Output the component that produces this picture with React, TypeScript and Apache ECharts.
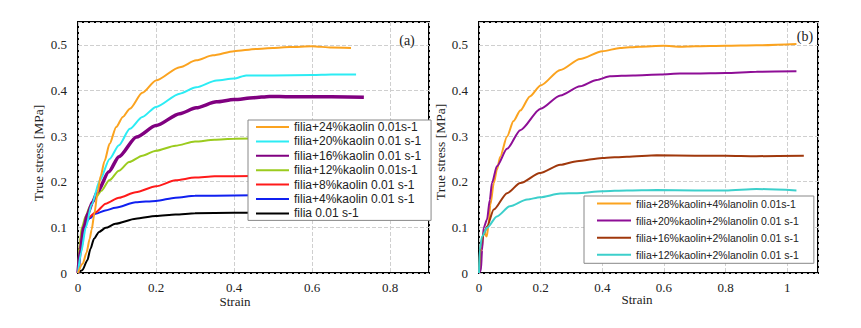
import React, { useEffect, useRef } from "react";
import * as echarts from "echarts";

// ---- Panel (a) data: [strain, true stress MPa] ----
const aK24: [number, number][] = [[0,0],[0.012,0.02],[0.022,0.045],[0.03,0.075],[0.035,0.095],[0.042,0.13],[0.05,0.175],[0.058,0.212],[0.068,0.245],[0.081,0.283],[0.098,0.32],[0.115,0.342],[0.133,0.36],[0.165,0.395],[0.2,0.422],[0.261,0.451],[0.303,0.466],[0.346,0.477],[0.4,0.486],[0.457,0.491],[0.5,0.493],[0.542,0.495],[0.6,0.497],[0.65,0.494],[0.7,0.493]];
const aK20: [number, number][] = [[0,0],[0.008,0.045],[0.02,0.1],[0.035,0.15],[0.056,0.203],[0.081,0.25],[0.105,0.28],[0.133,0.316],[0.165,0.342],[0.2,0.364],[0.261,0.393],[0.303,0.407],[0.355,0.422],[0.4,0.426],[0.431,0.433],[0.5,0.433],[0.6,0.434],[0.65,0.435],[0.713,0.435]];
const aK16: [number, number][] = [[0,0],[0.006,0.05],[0.015,0.1],[0.025,0.13],[0.037,0.155],[0.05,0.178],[0.079,0.222],[0.105,0.255],[0.15,0.298],[0.2,0.323],[0.261,0.349],[0.303,0.362],[0.355,0.375],[0.4,0.38],[0.45,0.384],[0.491,0.387],[0.542,0.386],[0.6,0.386],[0.65,0.386],[0.733,0.385]];
const aK12: [number, number][] = [[0,0],[0.005,0.07],[0.01,0.1],[0.02,0.125],[0.03,0.145],[0.045,0.165],[0.06,0.18],[0.08,0.203],[0.105,0.224],[0.131,0.243],[0.165,0.257],[0.2,0.268],[0.25,0.279],[0.3,0.288],[0.35,0.292],[0.4,0.294],[0.5,0.295],[0.6,0.296],[0.7,0.296]];
const aK8: [number, number][] = [[0,0],[0.007,0.079],[0.015,0.105],[0.028,0.122],[0.045,0.133],[0.071,0.152],[0.105,0.165],[0.148,0.177],[0.2,0.19],[0.25,0.203],[0.3,0.209],[0.35,0.212],[0.4,0.212],[0.5,0.213],[0.6,0.213],[0.7,0.213]];
const aK4: [number, number][] = [[0,0],[0.005,0.06],[0.01,0.09],[0.02,0.11],[0.03,0.12],[0.045,0.13],[0.07,0.137],[0.096,0.143],[0.148,0.155],[0.2,0.158],[0.25,0.165],[0.3,0.169],[0.4,0.17],[0.5,0.171],[0.6,0.171],[0.7,0.171]];
const aK0: [number, number][] = [[0,0],[0.011,0.006],[0.024,0.028],[0.032,0.053],[0.041,0.075],[0.054,0.09],[0.071,0.099],[0.096,0.108],[0.148,0.119],[0.2,0.125],[0.25,0.128],[0.3,0.131],[0.4,0.132],[0.5,0.132],[0.6,0.132],[0.7,0.132]];

// ---- Panel (b) data ----
const bK28L4: [number, number][] = [[0,0],[0.008,0.05],[0.015,0.09],[0.025,0.08],[0.03,0.1],[0.037,0.15],[0.048,0.197],[0.058,0.226],[0.069,0.255],[0.091,0.299],[0.112,0.333],[0.134,0.356],[0.165,0.387],[0.2,0.411],[0.264,0.445],[0.328,0.469],[0.4,0.486],[0.458,0.493],[0.52,0.496],[0.6,0.498],[0.652,0.496],[0.7,0.497],[0.8,0.498],[0.9,0.499],[1.03,0.502]];
const bK20L2: [number, number][] = [[0,0],[0.006,0.005],[0.01,0.05],[0.015,0.099],[0.026,0.117],[0.035,0.16],[0.042,0.197],[0.058,0.234],[0.091,0.272],[0.134,0.313],[0.2,0.36],[0.264,0.389],[0.328,0.409],[0.382,0.423],[0.425,0.431],[0.5,0.433],[0.59,0.435],[0.652,0.437],[0.7,0.437],[0.8,0.438],[0.9,0.441],[1.03,0.442]];
const bK16L2: [number, number][] = [[0,0],[0.004,0.058],[0.015,0.085],[0.026,0.102],[0.048,0.139],[0.091,0.175],[0.134,0.197],[0.198,0.219],[0.264,0.237],[0.318,0.245],[0.4,0.252],[0.48,0.255],[0.577,0.258],[0.7,0.257],[0.8,0.257],[0.9,0.256],[1.054,0.257]];
const bK12L2: [number, number][] = [[0,0],[0.002,0.05],[0.01,0.08],[0.026,0.099],[0.058,0.124],[0.1,0.146],[0.156,0.161],[0.198,0.166],[0.264,0.174],[0.318,0.175],[0.4,0.179],[0.48,0.181],[0.577,0.182],[0.7,0.181],[0.8,0.181],[0.9,0.184],[1.03,0.181]];

const leftNames = [
  "filia+24%kaolin 0.01s-1",
  "filia+20%kaolin 0.01 s-1",
  "filia+16%kaolin 0.01 s-1",
  "filia+12%kaolin 0.01s-1",
  "filia+8%kaolin 0.01 s-1",
  "filia+4%kaolin 0.01 s-1",
  "filia 0.01 s-1",
];
const rightNames = [
  "filia+28%kaolin+4%lanolin 0.01s-1",
  "filia+20%kaolin+2%lanolin 0.01 s-1",
  "filia+16%kaolin+2%lanolin 0.01 s-1",
  "filia+12%kaolin+2%lanolin 0.01 s-1",
];
const leftData = [aK24, aK20, aK16, aK12, aK8, aK4, aK0];
const rightData = [bK28L4, bK20L2, bK16L2, bK12L2];
const leftColors = ["#FBA31F", "#2CECF4", "#800080", "#9BCB1E", "#FF1A1A", "#1020F0", "#000000"];
const leftWidths = [2, 2, 3.5, 2, 2, 2, 2];
const rightColors = ["#FBA31F", "#8E0E96", "#A0380C", "#3CCFCB"];

const yTicks = [0, 0.1, 0.2, 0.3, 0.4, 0.5];

const serif = "'Liberation Serif', 'Times New Roman', serif";
const sans = "'Liberation Sans', Arial, sans-serif";

function fmt(step: number) {
  return (v: number) => {
    const r = v / step;
    if (Math.abs(r - Math.round(r)) > 1e-6) return "";
    return String(parseFloat(v.toFixed(2)));
  };
}

export default function App() {
  const ref = useRef<HTMLDivElement>(null);
  useEffect(() => {
    if (!ref.current) return;
    const chart = echarts.init(ref.current, undefined, { renderer: "svg" });
    const axisLabelCommon = { fontFamily: serif, fontSize: 13, color: "#222" };
    const splitLine = { show: true, lineStyle: { color: "#cfcfcf", type: "dashed" as const, width: 1 } };
    const mkX = (gridIndex: number, max: number) => ({
      type: "value" as const,
      gridIndex,
      min: 0,
      max,
      interval: 0.2,
      axisLine: { show: false },
      axisTick: { show: false },
      splitLine,
      axisLabel: { ...axisLabelCommon, margin: 8, formatter: fmt(0.2) },
    });
    const mkY = (gridIndex: number) => ({
      type: "value" as const,
      gridIndex,
      min: 0,
      max: 0.55,
      interval: 0.1,
      axisLine: { show: false },
      axisTick: { show: false },
      splitLine,
      axisLabel: {
        ...axisLabelCommon,
        margin: 11,
        formatter: (v: number) => (yTicks.some((t) => Math.abs(t - v) < 1e-6) ? String(parseFloat(v.toFixed(2))) : ""),
      },
    });
    const series: any[] = [];
    leftNames.forEach((n, i) => {
      series.push({
        type: "line",
        name: n,
        xAxisIndex: 0,
        yAxisIndex: 0,
        data: leftData[i],
        symbol: "none",
        showSymbol: false,
        smooth: 0.25,
        smoothMonotone: "x",
        lineStyle: { color: leftColors[i], width: leftWidths[i] },
        itemStyle: { color: leftColors[i] },
        z: 3 + (leftNames.length - i) * 0.01,
      });
    });
    rightNames.forEach((n, i) => {
      series.push({
        type: "line",
        name: n,
        xAxisIndex: 1,
        yAxisIndex: 1,
        data: rightData[i],
        symbol: "none",
        showSymbol: false,
        smooth: 0.25,
        smoothMonotone: "x",
        lineStyle: { color: rightColors[i], width: 2 },
        itemStyle: { color: rightColors[i] },
      });
    });
    const legendCommon = {
      orient: "vertical" as const,
      selectedMode: false,
      backgroundColor: "#ffffff",
      borderColor: "#888888",
      borderWidth: 1,
      borderRadius: 0,
      itemHeight: 12,
      itemStyle: { opacity: 0 },
      z: 10,
    };
    chart.setOption({
      animation: false,
      backgroundColor: "#ffffff",
      grid: [
        { left: 78, top: 22, width: 351, height: 251, show: true, borderColor: "#000", borderWidth: 2, backgroundColor: "transparent", containLabel: false },
        { left: 479, top: 22, width: 339, height: 251, show: true, borderColor: "#000", borderWidth: 2, backgroundColor: "transparent", containLabel: false },
      ],
      xAxis: [mkX(0, 0.9), mkX(1, 1.1)],
      yAxis: [mkY(0), mkY(1)],
      legend: [
        {
          ...legendCommon,
          data: leftNames,
          left: 248,
          top: 120,
          itemWidth: 33,
          itemGap: 2.4,
          padding: [1, 10, 1, 7],
          textStyle: { fontFamily: sans, fontSize: 12, color: "#222", lineHeight: 12 },
        },
        {
          ...legendCommon,
          data: rightNames,
          left: 584,
          top: 196,
          itemWidth: 34,
          itemGap: 5.1,
          padding: [1.5, 15, 2.5, 12],
          textStyle: { fontFamily: sans, fontSize: 10.5, color: "#222", lineHeight: 12 },
        },
      ],
      graphic: [
        { type: "text", x: 235, y: 301, style: { text: "Strain", fontFamily: serif, fontSize: 13, fill: "#222", textAlign: "center", textVerticalAlign: "middle" } },
        { type: "text", x: 637, y: 299, style: { text: "Strain", fontFamily: serif, fontSize: 13, fill: "#222", textAlign: "center", textVerticalAlign: "middle" } },
        { type: "text", x: 38, y: 153, rotation: Math.PI / 2, style: { text: "True stress [MPa]", fontFamily: serif, fontSize: 13.5, fill: "#222", textAlign: "center", textVerticalAlign: "middle" } },
        { type: "text", x: 440, y: 152, rotation: Math.PI / 2, style: { text: "True stress [MPa]", fontFamily: serif, fontSize: 13.5, fill: "#222", textAlign: "center", textVerticalAlign: "middle" } },
        { type: "text", x: 407, y: 40, style: { text: "(a)", fontFamily: serif, fontSize: 14, fill: "#222", textAlign: "center", textVerticalAlign: "middle" } },
        { type: "text", x: 805, y: 36, style: { text: "(b)", fontFamily: serif, fontSize: 14, fill: "#222", textAlign: "center", textVerticalAlign: "middle" } },
      ],
      series,
    });
    return () => chart.dispose();
  }, []);
  return (
    <div
      ref={ref}
      style={{ position: "absolute", left: 0, top: 0, width: 861, height: 328, background: "#fff" }}
    />
  );
}
